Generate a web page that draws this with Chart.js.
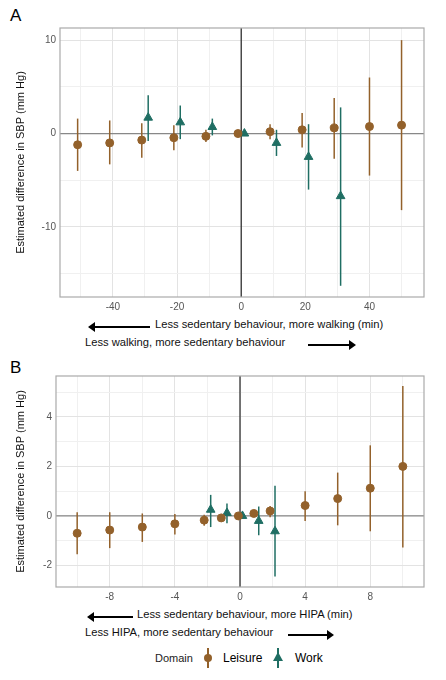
<!DOCTYPE html>
<html><head><meta charset="utf-8">
<script src="https://cdn.jsdelivr.net/npm/chart.js@4"></script>
<style>
body{margin:0;width:446px;height:680px;background:#fff;font-family:"Liberation Sans",Arial,sans-serif;position:relative;overflow:hidden}
.abs{position:absolute;white-space:nowrap}
.lbl{font-size:17px;color:#000}
.t{font-size:11.2px;color:#111}
.arrL,.arrR{position:absolute;height:1.5px;background:#000}
.arrL:before{content:"";position:absolute;left:-6px;top:-4px;border:5px solid transparent;border-right:7px solid #000;border-left:0}
.arrR:after{content:"";position:absolute;right:-6px;top:-4px;border:5px solid transparent;border-left:7px solid #000;border-right:0}
</style></head><body>
<div class="abs lbl" style="left:10px;top:6px">A</div>
<div class="abs lbl" style="left:10px;top:358px">B</div>
<div class="abs" style="left:12px;top:0;width:434px;height:315px"><canvas id="a"></canvas></div>
<div class="abs" style="left:12px;top:360px;width:434px;height:245px"><canvas id="b"></canvas></div>

<div class="arrL" style="left:94px;top:326px;width:56px"></div>
<div class="abs t" style="left:155px;top:318px">Less sedentary behaviour, more walking (min)</div>
<div class="abs t" style="left:85px;top:336px">Less walking, more sedentary behaviour</div>
<div class="arrR" style="left:308px;top:344px;width:42px"></div>

<div class="arrL" style="left:93px;top:616px;width:40px"></div>
<div class="abs t" style="left:137px;top:608px">Less sedentary behaviour, more HIPA (min)</div>
<div class="abs t" style="left:85px;top:626px">Less HIPA, more sedentary behaviour</div>
<div class="arrR" style="left:288px;top:634px;width:40px"></div>

<div class="abs" style="left:155px;top:652px;font-size:11px;color:#222">Domain</div>
<div class="abs" style="left:207px;top:648px;width:1.5px;height:20px;background:#93612b"></div>
<div class="abs" style="left:204px;top:654px;width:8px;height:8px;border-radius:50%;background:#93612b"></div>
<div class="abs" style="left:223px;top:651px;font-size:12px">Leisure</div>
<div class="abs" style="left:277px;top:648px;width:1.5px;height:20px;background:#1f6e63"></div>
<div class="abs" style="left:273px;top:652px;border:5px solid transparent;border-bottom:9px solid #1f6e63;border-top:0"></div>
<div class="abs" style="left:295px;top:651px;font-size:12px">Work</div>
<script>
const leisureColor = '#93612b', workColor = '#1f6e63';

// Panel A: walking (min)
const aLeisureX  = [-51, -41, -31, -21, -11, -1, 9, 19, 29, 40, 50];
const aLeisureY  = [-1.2, -1.0, -0.7, -0.45, -0.3, 0, 0.2, 0.4, 0.6, 0.75, 0.9];
const aLeisureLo = [-4.0, -3.3, -2.6, -1.8, -0.9, 0, -0.6, -1.5, -2.7, -4.5, -8.2];
const aLeisureHi = [1.6, 1.4, 1.1, 0.9, 0.4, 0, 1.0, 2.2, 3.8, 6.0, 10.0];
const aWorkX  = [-29, -19, -9, 1, 11, 21, 31];
const aWorkY  = [1.7, 1.2, 0.7, 0, -1.0, -2.5, -6.7];
const aWorkLo = [-0.8, -0.6, -0.2, 0, -2.4, -6.0, -16.3];
const aWorkHi = [4.1, 3.0, 1.6, 0, 0.4, 1.0, 2.8];

// Panel B: HIPA (min)
const bLeisureX  = [-10, -8, -6, -4, -2.2, -1.15, -0.1, 0.85, 1.85, 4, 6, 8, 10];
const bLeisureY  = [-0.7, -0.57, -0.45, -0.32, -0.17, -0.08, 0, 0.1, 0.2, 0.42, 0.7, 1.12, 2.0];
const bLeisureLo = [-1.55, -1.3, -1.05, -0.75, -0.4, -0.08, 0, 0.1, -0.05, -0.2, -0.38, -0.62, -1.27];
const bLeisureHi = [0.15, 0.15, 0.1, 0.08, 0.05, -0.08, 0, 0.1, 0.4, 1.0, 1.75, 2.85, 5.25];
const bWorkX  = [-1.8, -0.8, 0.15, 1.15, 2.15];
const bWorkY  = [0.25, 0.12, 0, -0.2, -0.62];
const bWorkLo = [-0.45, -0.3, 0, -0.78, -2.45];
const bWorkHi = [0.85, 0.5, 0, 0.38, 1.22];

function pts(xs, ys, lo, hi) {
  return xs.map((x, i) => ({x: x, y: ys[i], lo: lo[i], hi: hi[i]}));
}

const errorBars = {
  id: 'errorBars',
  beforeDatasetsDraw(chart) {
    const c = chart.ctx, xs = chart.scales.x, ys = chart.scales.y, a = chart.chartArea;
    c.save();
    c.lineWidth = 1.2;
    c.strokeStyle = '#222';
    c.beginPath(); c.moveTo(xs.getPixelForValue(0), a.top); c.lineTo(xs.getPixelForValue(0), a.bottom); c.stroke();
    c.strokeStyle = '#888';
    c.beginPath(); c.moveTo(a.left, ys.getPixelForValue(0)); c.lineTo(a.right, ys.getPixelForValue(0)); c.stroke();
    c.lineWidth = 1.5;
    chart.data.datasets.forEach(ds => {
      c.strokeStyle = ds.backgroundColor;
      ds.data.forEach(p => {
        const px = xs.getPixelForValue(p.x);
        c.beginPath(); c.moveTo(px, ys.getPixelForValue(p.lo)); c.lineTo(px, ys.getPixelForValue(p.hi)); c.stroke();
      });
    });
    c.strokeStyle = '#aaa'; c.lineWidth = 1.2;
    c.strokeRect(a.left, a.top, a.right - a.left, a.bottom - a.top);
    c.restore();
  }
};

function axis(min, max, step, labelStep, fixed) {
  return {
    type: 'linear', min: min, max: max,
    afterBuildTicks: s => {
      const t = [];
      for (let v = Math.ceil(min / step) * step; v <= max + 1e-9; v += step) t.push({value: +v.toFixed(6)});
      s.ticks = t;
    },
    afterFit: fixed,
    grid: {color: ctx => (Math.abs(ctx.tick.value % labelStep) < 1e-6 ? '#e3e3e3' : '#f0f0f0'), drawTicks: false},
    border: {display: false},
    ticks: {color: '#555', font: {size: 10}, padding: 4,
      callback: v => (Math.abs(v % labelStep) < 1e-6 ? v : '')}
  };
}

function makeChart(id, leisure, work, xr, yr, yWidth, padTop) {
  const ya = axis(yr[0], yr[1], yr[2], yr[3], s => { s.width = yWidth; });
  ya.title = {display: true, text: 'Estimated difference in SBP (mm Hg)', color: '#111', font: {size: 11}, padding: 2};
  return new Chart(document.getElementById(id), {
    type: 'scatter',
    data: {datasets: [
      {label: 'Leisure', data: leisure, backgroundColor: leisureColor, borderColor: leisureColor, pointStyle: 'circle', pointRadius: 4},
      {label: 'Work', data: work, backgroundColor: workColor, borderColor: workColor, pointStyle: 'triangle', pointRadius: 5}
    ]},
    options: {
      responsive: true, maintainAspectRatio: false, animation: false,
      layout: {padding: {top: padTop, right: 22}},
      plugins: {legend: {display: false}, tooltip: {enabled: false}},
      scales: {
        x: axis(xr[0], xr[1], xr[2], xr[3], s => { s.height = 18; }),
        y: ya
      }
    },
    plugins: [errorBars]
  });
}

makeChart('a', pts(aLeisureX, aLeisureY, aLeisureLo, aLeisureHi), pts(aWorkX, aWorkY, aWorkLo, aWorkHi),
  [-56.5, 57, 10, 20], [-17.5, 11.3, 5, 10], 48, 28);
makeChart('b', pts(bLeisureX, bLeisureY, bLeisureLo, bLeisureHi), pts(bWorkX, bWorkY, bWorkLo, bWorkHi),
  [-11.3, 11.3, 2, 4], [-2.87, 5.65, 1, 2], 44, 16);
</script>
</body></html>
